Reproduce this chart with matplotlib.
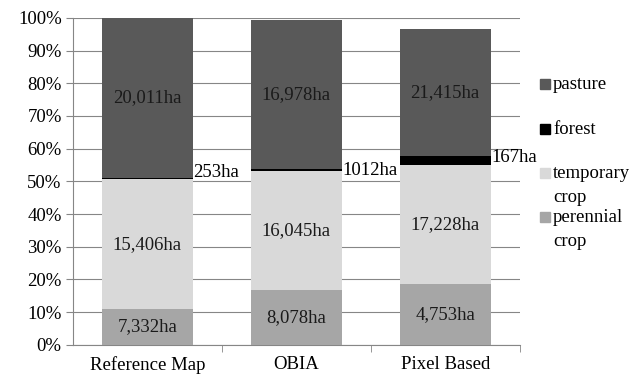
import matplotlib

matplotlib.use("Agg")
import matplotlib.pyplot as plt
import numpy as np
from matplotlib.patches import Rectangle
from matplotlib.ticker import PercentFormatter

plt.rcParams["font.family"] = ["Liberation Serif", "DejaVu Serif"]

categories = ["Reference Map", "OBIA", "Pixel Based"]
# share of the bar (percent)
perennial = [10.9, 16.8, 18.6]
temporary = [39.8, 36.4, 36.4]
forest = [0.3, 0.5, 2.8]
pasture = [49.0, 45.5, 38.7]
# area labels written on the bars
perennial_ha = ["7,332ha", "8,078ha", "4,753ha"]
temporary_ha = ["15,406ha", "16,045ha", "17,228ha"]
forest_ha = ["253ha", "1012ha", "167ha"]
pasture_ha = ["20,011ha", "16,978ha", "21,415ha"]

colors = {"perennial": "#a6a6a6", "temporary": "#d9d9d9",
          "forest": "#000000", "pasture": "#595959"}
forest_label_dy = [1.6, -0.5, -0.5]  # nudge of the outside labels

fig = plt.figure(figsize=(6.33, 3.79), dpi=100)
ax = fig.add_axes([0.115, 0.09, 0.706, 0.863])

x = np.arange(len(categories))
w = 0.61
fs = 13.5
series = [
    ("perennial\ncrop", perennial, perennial_ha, colors["perennial"]),
    ("temporary\ncrop", temporary, temporary_ha, colors["temporary"]),
    ("forest", forest, forest_ha, colors["forest"]),
    ("pasture", pasture, pasture_ha, colors["pasture"]),
]
bottom = np.zeros(len(categories))
for name, vals, labels, col in series:
    vals = np.array(vals)
    ax.bar(x, vals, w, bottom=bottom, color=col, zorder=3)
    for i, lab in enumerate(labels):
        if name == "forest":
            ax.text(x[i] + w / 2 + 0.005, bottom[i] + vals[i] + forest_label_dy[i],
                    lab, ha="left", va="center", fontsize=fs, color="black",
                    zorder=4)
        else:
            ax.text(x[i], bottom[i] + vals[i] / 2, lab, ha="center",
                    va="center", fontsize=fs, color="#1a1a1a", zorder=4)
    bottom += vals

ax.set_xlim(-0.5, 2.5)
ax.set_ylim(0, 100)
ax.set_yticks(np.arange(0, 101, 10))
ax.yaxis.set_major_formatter(PercentFormatter(decimals=0))
ax.set_xticks(x)
ax.set_xticklabels(categories)
ax.set_xticks([0.5, 1.5, 2.5], minor=True)
ax.tick_params(axis="x", which="major", length=0, labelsize=fs, pad=8)
ax.tick_params(axis="x", which="minor", length=5, color="#868686",
               direction="out")
ax.tick_params(axis="y", length=5, color="#868686", labelsize=fs, pad=3)
ax.grid(axis="y", color="#868686", linewidth=0.8, zorder=0)
for s in ["top", "right"]:
    ax.spines[s].set_visible(False)
for s in ["left", "bottom"]:
    ax.spines[s].set_color("#868686")

# legend drawn by hand, pasture on top
H = 379.0
W = 633.0
legend_rows = [("pasture", colors["pasture"], 84),
               ("forest", colors["forest"], 129),
               ("temporary\ncrop", colors["temporary"], 173),
               ("perennial\ncrop", colors["perennial"], 217)]
for label, col, ypx in legend_rows:
    fig.patches.append(Rectangle((540 / W, (H - ypx - 5) / H), 10 / W, 10 / H,
                                 transform=fig.transFigure, color=col,
                                 figure=fig))
    for k, line in enumerate(label.split("\n")):
        fig.text(553 / W, (H - ypx - 23.5 * k - 5) / H, line, ha="left",
                 va="baseline", fontsize=fs)

fig.savefig("out.png", dpi=100)
